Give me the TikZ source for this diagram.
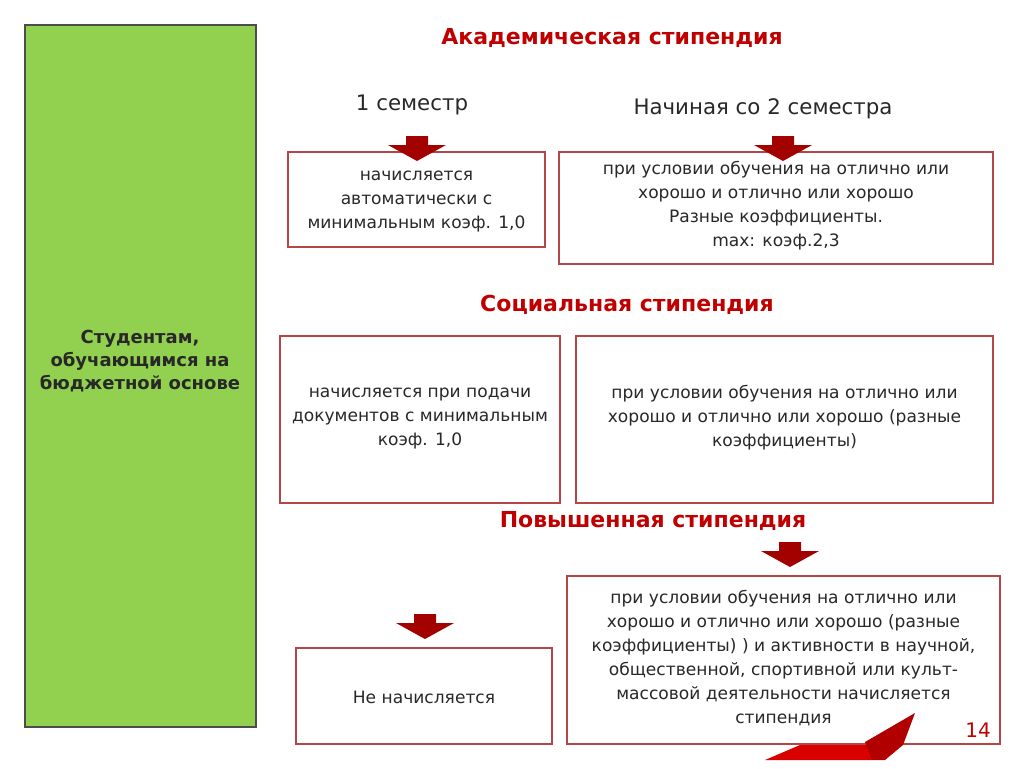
\documentclass[tikz,border=0pt]{standalone}
\usepackage{fontspec}
\setmainfont{DejaVu Sans}
\definecolor{dred}{RGB}{192,0,0}
\definecolor{bord}{RGB}{180,70,70}
\definecolor{gfill}{RGB}{146,208,80}
\definecolor{txt}{RGB}{40,40,40}
\begin{document}
\begin{tikzpicture}[x=0.75pt,y=-0.75pt,
  box/.style={draw=bord,line width=0.8pt,fill=white},
  body/.style={align=center,font=\fontsize{12.8}{18}\selectfont,text=txt},
  head/.style={font=\bfseries\fontsize{16.5}{19}\selectfont,text=dred},
  sub/.style={font=\fontsize{16}{19}\selectfont,text=txt},
  arr/.style={fill=dred!85!black,draw=none}]
\useasboundingbox (0,0) rectangle (1024,768);
\fill[white] (0,0) rectangle (1024,768);
% green
\draw[fill=gfill,draw=black!70,line width=0.8pt] (25,25) rectangle (256,727);
\node[align=center,font=\bfseries\fontsize{13.5}{17.5}\selectfont,text=txt] (g) at (140,361) {Студентам,\\обучающимся на\\бюджетной основе};
% headings
\node[head] (h1) at (612,38) {Академическая стипендия};
\node[sub] (s1) at (412,105) {1 семестр};
\node[sub] (s2) at (763,109) {Начиная со 2 семестра};
\node[head] (h2) at (627,305) {Социальная стипендия};
\node[head] (h3) at (653,521) {Повышенная стипендия};
% boxes
\draw[box] (288,152) rectangle (545,247);
\node[body] (b1) at (416.5,201) {начисляется\\автоматически с\\минимальным коэф. 1,0};
\draw[box] (559,152) rectangle (993,264);
\node[body] (b2) at (776,206) {при условии обучения на отлично или\\хорошо и отлично или хорошо\\Разные коэффициенты.\\max: коэф.2,3};
\draw[box] (280,336) rectangle (560,503);
\node[body] (b3) at (420,418) {начисляется при подачи\\документов с минимальным\\коэф. 1,0};
\draw[box] (576,336) rectangle (993,503);
\node[body] (b4) at (784.5,418) {при условии обучения на отлично или\\хорошо и отлично или хорошо (разные\\коэффициенты)};
\draw[box] (296,648) rectangle (552,744);
\node[body] (b6) at (424,697) {Не начисляется};
\draw[box] (567,576) rectangle (1000,744);
\node[body] (b5) at (783.5,658) {при условии обучения на отлично или\\хорошо и отлично или хорошо (разные\\коэффициенты) ) и активности в научной,\\общественной, спортивной или культ-\\массовой деятельности начисляется\\стипендия};
% decoration
\fill[red!85!black] (800,745) -- (885,745) -- (872,760) -- (765,760) -- cycle;
\fill[red!70!black] (865,742) -- (915,713) -- (903,745) -- (885,760) -- (872,760) -- cycle;
\node[font=\fontsize{15}{18}\selectfont,text=dred] (n) at (978,730) {14};
% arrows
\foreach \x/\y in {417/136,783/136,790/542,425/614}{
  \fill[arr] (\x-11,\y) -- (\x+11,\y) -- (\x+11,\y+9) -- (\x+29,\y+9) -- (\x,\y+25) -- (\x-29,\y+9) -- (\x-11,\y+9) -- cycle;}
\end{tikzpicture}
\end{document}
